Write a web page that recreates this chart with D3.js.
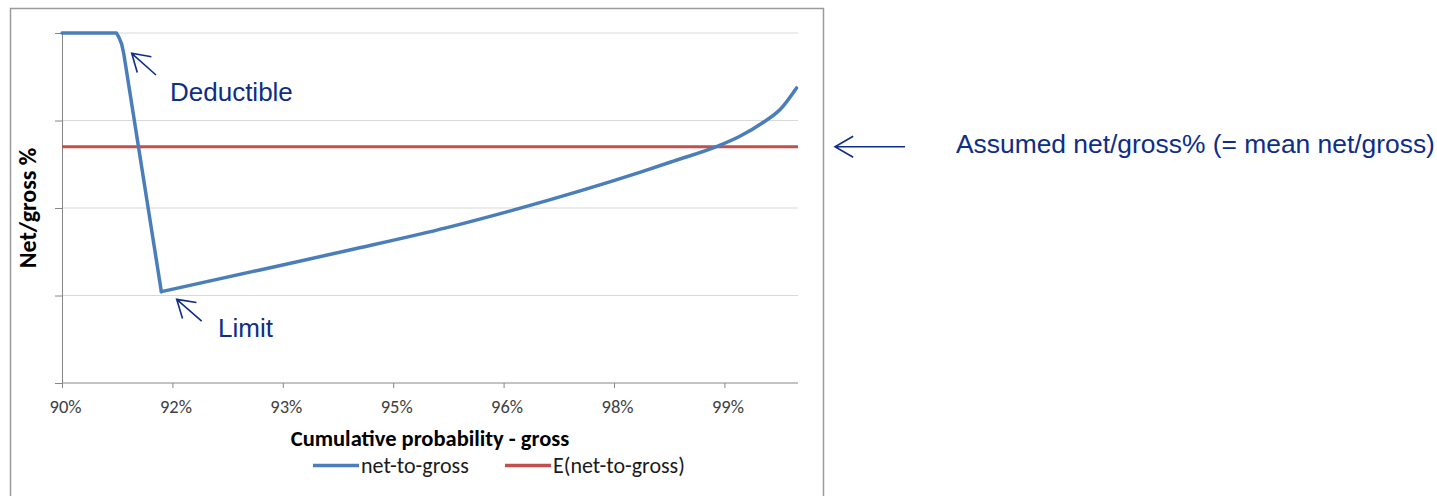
<!DOCTYPE html>
<html>
<head>
<meta charset="utf-8">
<script src="https://cdn.jsdelivr.net/npm/d3@7"></script>
<style>
  html, body { margin: 0; padding: 0; background: #fff; }
  svg { display: block; }
</style>
</head>
<body>
<svg id="chart" width="1437" height="496"></svg>
<script>
// ---- data ----
const xTickValues = [0.90, 0.915, 0.93, 0.945, 0.96, 0.975, 0.99];
const xTickLabels = ["90%", "92%", "93%", "95%", "96%", "98%", "99%"];
const yTickValues = [0, 0.25, 0.5, 0.75, 1.0];

// net-to-gross curve: flat, deductible drop to the limit point, then rising
const cumulativeProb = [0.9000, 0.9074, 0.9077, 0.9081, 0.9084, 0.9135,
                        0.9269, 0.9391, 0.9523, 0.9613, 0.9704, 0.9785, 0.9831,
                        0.9890, 0.9921, 0.9953, 0.9976, 0.9998];
const netToGross     = [1.000, 1.000, 0.989, 0.969, 0.940, 0.261,
                        0.323, 0.380, 0.444, 0.494, 0.549, 0.602, 0.634,
                        0.676, 0.705, 0.745, 0.782, 0.843];
const limitIndex = 5;   // the minimum (limit) point
const meanNetToGross = 0.675;

const seriesNames = ["net-to-gross", "E(net-to-gross)"];
const xTitle = "Cumulative probability - gross";
const yTitle = "Net/gross %";
const annotations = [
  { text: "Deductible", tip: [0.90947, 0.942], tail: [0.91277, 0.880], label: [0.91467, 0.8066] },
  { text: "Limit", tip: [0.91558, 0.239], tail: [0.91898, 0.177], label: [0.92120, 0.1323] }
];
const sideNote = "Assumed net/gross% (= mean net/gross)";

// ---- layout ----
const svg = d3.select("#chart");
const plot = { left: 62, right: 798, top: 33, bottom: 383 };
const x = d3.scaleLinear().domain([0.90, 1.00]).range([plot.left, plot.right]);
const y = d3.scaleLinear().domain([0, 1]).range([plot.bottom, plot.top]);

const excelFont = "Calibri, Carlito, 'Open Sans', sans-serif";
const annFont = "Arial, 'Liberation Sans', sans-serif";
const annColor = "#0e2d86";
const blue = "#4a7ebb";
const red = "#c0504d";

// frame
svg.append("rect")
  .attr("x", 10.5).attr("y", 8.5).attr("width", 813).attr("height", 600)
  .attr("fill", "#fff").attr("stroke", "#9a9a9a").attr("stroke-width", 1.5);

// gridlines
svg.append("g").selectAll("line").data(yTickValues.filter(d => d > 0)).join("line")
  .attr("x1", plot.left).attr("x2", plot.right)
  .attr("y1", d => y(d)).attr("y2", d => y(d))
  .attr("stroke", "#d9d9d9").attr("stroke-width", 1);

// y axis (no labels)
const yAxis = svg.append("g").attr("transform", `translate(${plot.left},0)`)
  .call(d3.axisLeft(y).tickValues(yTickValues).tickFormat("").tickSize(7).tickSizeOuter(0));
yAxis.select(".domain").attr("stroke", "#868686");
yAxis.selectAll(".tick line").attr("stroke", "#868686");

// x axis
const xAxis = svg.append("g").attr("transform", `translate(0,${plot.bottom})`)
  .call(d3.axisBottom(x).tickValues(xTickValues)
    .tickFormat((d, i) => xTickLabels[i]).tickSize(5).tickSizeOuter(0).tickPadding(12));
xAxis.select(".domain").attr("stroke", "#868686").attr("d", `M${plot.left},0H${plot.right}`);
xAxis.selectAll(".tick line").attr("stroke", "#868686");
xAxis.selectAll(".tick text")
  .attr("font-family", excelFont).attr("font-size", 18.5).attr("fill", "#404040")
  .attr("dx", 3);

// series
svg.append("path")
  .attr("fill", "none").attr("stroke", red).attr("stroke-width", 3)
  .attr("d", d3.line()([[x(0.90), y(meanNetToGross)], [x(1.00), y(meanNetToGross)]]));

const pts = cumulativeProb.map((p, i) => [p, netToGross[i]]);
const lineLinear = d3.line().x(d => x(d[0])).y(d => y(d[1])).curve(d3.curveLinear);
const lineSmooth = d3.line().x(d => x(d[0])).y(d => y(d[1])).curve(d3.curveMonotoneX);
[[pts.slice(0, limitIndex + 1), lineLinear], [pts.slice(limitIndex), lineSmooth]].forEach(([seg, gen]) => {
  svg.append("path").datum(seg)
    .attr("fill", "none").attr("stroke", blue).attr("stroke-width", 3.5)
    .attr("stroke-linejoin", "round").attr("stroke-linecap", "round")
    .attr("d", gen);
});

// titles
svg.append("text")
  .attr("x", 430).attr("y", 445.5).attr("text-anchor", "middle")
  .attr("font-family", excelFont).attr("font-weight", "bold").attr("font-size", 22.5)
  .attr("fill", "#000").text(xTitle);
svg.append("text")
  .attr("transform", `translate(36,${(plot.top + plot.bottom) / 2}) rotate(-90)`)
  .attr("text-anchor", "middle")
  .attr("font-family", excelFont).attr("font-weight", "bold").attr("font-size", 24)
  .attr("fill", "#000").text(yTitle);

// legend
const legendItems = [
  { name: seriesNames[0], color: blue, x0: 313 },
  { name: seriesNames[1], color: red, x0: 505 }
];
const lg = svg.append("g");
legendItems.forEach(it => {
  lg.append("line").attr("x1", it.x0).attr("x2", it.x0 + 46).attr("y1", 465.5).attr("y2", 465.5)
    .attr("stroke", it.color).attr("stroke-width", 3.5);
  lg.append("text").attr("x", it.x0 + 48).attr("y", 473)
    .attr("font-family", excelFont).attr("font-size", 22).attr("fill", "#1a1a1a").text(it.name);
});

// arrows helper
function arrow(tip, tail, wing = 20, ang = 32) {
  const dx = tail[0] - tip[0], dy = tail[1] - tip[1];
  const a = Math.atan2(dy, dx), r = ang * Math.PI / 180;
  const w1 = [tip[0] + wing * Math.cos(a + r), tip[1] + wing * Math.sin(a + r)];
  const w2 = [tip[0] + wing * Math.cos(a - r), tip[1] + wing * Math.sin(a - r)];
  svg.append("path")
    .attr("d", `M${tail[0]},${tail[1]}L${tip[0]},${tip[1]}M${w1[0]},${w1[1]}L${tip[0]},${tip[1]}L${w2[0]},${w2[1]}`)
    .attr("fill", "none").attr("stroke", annColor).attr("stroke-width", 1.6);
}

annotations.forEach(a => {
  arrow([x(a.tip[0]), y(a.tip[1])], [x(a.tail[0]), y(a.tail[1])]);
  svg.append("text").attr("x", x(a.label[0])).attr("y", y(a.label[1]))
    .attr("font-family", annFont).attr("font-size", 26).attr("fill", annColor).text(a.text);
});

// side note arrow and text (at the mean level)
arrow([835, y(meanNetToGross)], [905, y(meanNetToGross)], 21, 30);
svg.append("text").attr("x", 956).attr("y", y(meanNetToGross) + 6)
  .attr("font-family", annFont).attr("font-size", 26.4).attr("fill", annColor).text(sideNote);
</script>
</body>
</html>
